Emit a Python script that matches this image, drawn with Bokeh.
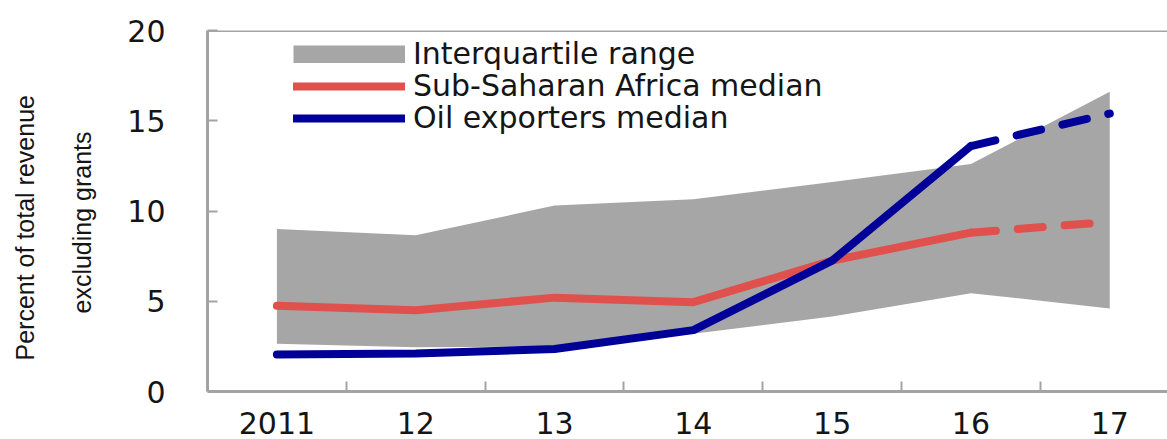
from bokeh.plotting import figure
from bokeh.models import Range1d, FixedTicker, Span, Legend, LegendItem, Title
from bokeh.embed import file_html
from bokeh.resources import INLINE

# ---- data ----
years = [2011, 2012, 2013, 2014, 2015, 2016, 2017]
year_labels = ["2011", "12", "13", "14", "15", "16", "17"]
iqr_low = [2.65, 2.45, 2.5, 3.2, 4.15, 5.45, 4.6]
iqr_high = [9.0, 8.65, 10.3, 10.65, 11.6, 12.6, 16.6]
ssa_median = [4.75, 4.5, 5.2, 4.95, 7.25, 8.8, 9.4]
oil_median = [2.05, 2.1, 2.35, 3.4, 7.25, 13.6, 15.4]
last_actual = 2016
y_ticks = [0, 5, 10, 15, 20]
y_label_lines = ["Percent of total revenue", "excluding grants"]
legend_labels = ["Interquartile range", "Sub-Saharan Africa median", "Oil exporters median"]

FONT = "DejaVu Sans"
TITLE_FONT = "Liberation Sans"
BAND = "#a6a6a6"
AXIS = "#a3a3a3"
RED = "#e0504c"
BLUE = "#000099"
TXT = "#151515"

n_act = years.index(last_actual) + 1
nan = float("nan")

p = figure(width=1167, height=439,
           x_range=Range1d(2010.5, 2017.416), y_range=Range1d(0, 20),
           output_backend="svg", toolbar_location=None,
           min_border_left=207, min_border_right=0,
           min_border_top=30, min_border_bottom=48)
p.outline_line_color = None
p.grid.visible = False
p.background_fill_color = "white"
p.border_fill_color = "white"

band = p.varea(x=years, y1=iqr_low, y2=iqr_high, fill_color=BAND, fill_alpha=1)

lw = 8
red_solid = p.line(years[:n_act], ssa_median[:n_act], line_color=RED, line_width=lw,
                   line_cap="round", line_join="round")
p.line(years[n_act - 1:], ssa_median[n_act - 1:], line_color=RED, line_width=lw,
       line_cap="round", line_join="round", line_dash="25 22")
blue_solid = p.line(years[:n_act], oil_median[:n_act], line_color=BLUE, line_width=lw,
                    line_cap="round", line_join="round")
p.line(years[n_act - 1:], oil_median[n_act - 1:], line_color=BLUE, line_width=lw,
       line_cap="round", line_join="round", line_dash="25 22")
# legend-only swatch for the band (thick butt-capped line, no drawable data)
band_swatch = p.line(x=[nan, nan], y=[nan, nan], line_color=BAND, line_width=18,
                     line_cap="butt")

# top border
p.add_layout(Span(location=y_ticks[-1], dimension="width", line_color=AXIS, line_width=3))

# x axis: labels at categories, ticks between
xa = p.xaxis[0]
xa.ticker = FixedTicker(ticks=years, minor_ticks=[y + 0.5 for y in years[:-1]])
xa.major_label_overrides = {y: l for y, l in zip(years, year_labels)}
xa.major_tick_in = 0
xa.major_tick_out = 0
xa.minor_tick_in = 10
xa.minor_tick_out = 0
xa.minor_tick_line_color = AXIS
xa.minor_tick_line_width = 2
xa.axis_line_color = AXIS
xa.axis_line_width = 3
xa.major_label_standoff = 20
xa.major_label_text_font = FONT
xa.major_label_text_font_size = "30px"
xa.major_label_text_color = TXT

ya = p.yaxis[0]
ya.ticker = FixedTicker(ticks=y_ticks, minor_ticks=[])
ya.major_tick_in = 10
ya.major_tick_out = 0
ya.major_tick_line_color = AXIS
ya.major_tick_line_width = 2
ya.minor_tick_line_color = None
ya.axis_line_color = AXIS
ya.axis_line_width = 3
ya.major_label_standoff = 42
ya.major_label_text_font = FONT
ya.major_label_text_font_size = "30px"
ya.major_label_text_color = TXT

# y-axis title: two rotated lines as left-side titles (inner line first)
for txt, off, so in [(y_label_lines[1], 78, 55), (y_label_lines[0], 31, 0)]:
    p.add_layout(Title(text=txt, align="left", offset=off, standoff=so,
                       vertical_align="middle", text_font=TITLE_FONT,
                       text_font_size="25px", text_font_style="normal",
                       text_color=TXT), "left")

# legend: one single-item legend per row for exact row placement
for lab, rend, ypos in zip(legend_labels, [band_swatch, red_solid, blue_solid], [320, 288, 256]):
    p.add_layout(Legend(items=[LegendItem(label=lab, renderers=[rend])],
                        location=(86, ypos), padding=0, margin=0, spacing=0,
                        glyph_width=112, glyph_height=18, label_standoff=8,
                        label_text_font=FONT, label_text_font_size="30px",
                        label_text_color=TXT, border_line_color=None,
                        background_fill_alpha=0))

open("out.html", "w").write(file_html(p, INLINE))
